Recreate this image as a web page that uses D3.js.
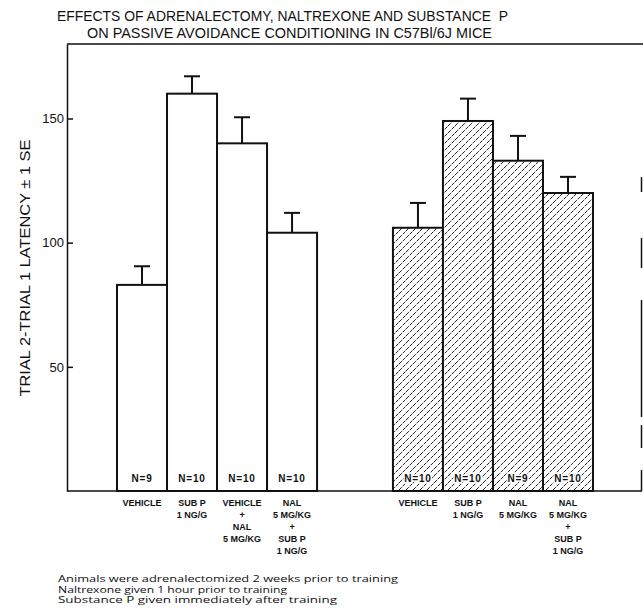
<!DOCTYPE html>
<html>
<head>
<meta charset="utf-8">
<script src="https://cdn.jsdelivr.net/npm/d3@7"></script>
<style>
  body { margin: 0; background: #fff; }
  text { fill: #111; }
</style>
</head>
<body>
<div id="chart"></div>
<script>
// chart values
const titleLines = [
  "EFFECTS OF ADRENALECTOMY, NALTREXONE AND SUBSTANCE  P",
  "ON PASSIVE AVOIDANCE CONDITIONING IN C57Bl/6J MICE"
];
const yTitle = "TRIAL 2-TRIAL 1 LATENCY ± 1 SE";
const yTicks = [50, 100, 150];
const groups = ["group1", "group2"];

const leftLabels = [
  ["VEHICLE"],
  ["SUB P", "1 NG/G"],
  ["VEHICLE", "+", "NAL", "5 MG/KG"],
  ["NAL", "5 MG/KG", "+", "SUB P", "1 NG/G"]
];
const leftMeans = [83, 160, 140, 104];
const leftSE = [7.5, 7, 10.5, 8];
const leftN = [9, 10, 10, 10];

const rightLabels = [
  ["VEHICLE"],
  ["SUB P", "1 NG/G"],
  ["NAL", "5 MG/KG"],
  ["NAL", "5 MG/KG", "+", "SUB P", "1 NG/G"]
];
const rightMeans = [106, 149, 133, 120];
const rightSE = [10, 9, 10, 6.5];
const rightN = [10, 10, 9, 10];

const footnotes = [
  "Animals were adrenalectomized 2 weeks prior to training",
  "Naltrexone given 1 hour prior to training",
  "Substance P given immediately after training"
];

const width = 643;
const height = 613;

const bars = [];
[[leftLabels, leftMeans, leftSE, leftN], [rightLabels, rightMeans, rightSE, rightN]]
  .forEach(([labels, means, se, n], g) => {
    means.forEach((m, i) => {
      bars.push({ group: groups[g], idx: i, label: labels[i], mean: m, se: se[i], n: n[i] });
    });
  });

const svg = d3.select("#chart").append("svg")
  .attr("width", width)
  .attr("height", height);

const defs = svg.append("defs");
const hatch = defs.append("pattern")
  .attr("id", "hatch")
  .attr("patternUnits", "userSpaceOnUse")
  .attr("width", 7)
  .attr("height", 7);
hatch.append("rect").attr("width", 7).attr("height", 7).attr("fill", "#fff");
hatch.append("path")
  .attr("d", "M-1,1 l2,-2 M0,7 l7,-7 M6,8 l2,-2")
  .attr("stroke", "#222")
  .attr("stroke-width", 1)
  .attr("stroke-dasharray", "4,1.2");

const y = d3.scaleLinear().domain([0, 180]).range([491, 44]);
const xGroup = d3.scaleBand().domain(groups).range([117, 593]).paddingInner(0.275);
const xBar = d3.scaleBand().domain(d3.range(4)).range([0, xGroup.bandwidth()]);

const barX = (d) => xGroup(d.group) + xBar(d.idx);
const barMid = (d) => barX(d) + xBar.bandwidth() / 2;

// title
svg.append("g")
  .selectAll("text")
  .data(titleLines)
  .enter()
  .append("text")
  .attr("x", (d, i) => (i === 0 ? 57 : 87))
  .attr("y", (d, i) => (i === 0 ? 21 : 38))
  .attr("textLength", (d, i) => (i === 0 ? 451 : 405))
  .attr("lengthAdjust", "spacingAndGlyphs")
  .style("font-family", "Liberation Sans, Arial, sans-serif")
  .style("font-size", "15px")
  .style("white-space", "pre")
  .text((d) => d);

// frame
svg.append("line")
  .attr("x1", 67).attr("x2", width)
  .attr("y1", y(180)).attr("y2", y(180))
  .attr("stroke", "#111").attr("stroke-width", 1.5);
svg.append("line")
  .attr("x1", 67).attr("x2", 642)
  .attr("y1", y(0)).attr("y2", y(0))
  .attr("stroke", "#111").attr("stroke-width", 1.5);
svg.append("line")
  .attr("x1", 641.5).attr("x2", 641.5)
  .attr("y1", 177).attr("y2", y(0))
  .attr("stroke", "#111").attr("stroke-width", 1.5)
  .attr("stroke-dasharray", "15,46,30,32,117,8,23,22,21");

// y axis
const yAxis = d3.axisLeft(y).tickValues(yTicks).tickSize(-6).tickSizeOuter(0).tickPadding(3);
const yg = svg.append("g")
  .attr("class", "y-axis")
  .attr("transform", "translate(67,0)")
  .call(yAxis);
yg.select(".domain").attr("stroke", "#111").attr("stroke-width", 1.5);
yg.selectAll(".tick line").attr("stroke", "#111").attr("stroke-width", 1.5);
yg.selectAll(".tick text")
  .style("font-family", "Liberation Sans, Arial, sans-serif")
  .style("font-size", "13px")
  .attr("fill", "#111");

svg.append("text")
  .attr("transform", "translate(30,268) rotate(-90)")
  .attr("text-anchor", "middle")
  .attr("textLength", 257)
  .attr("lengthAdjust", "spacingAndGlyphs")
  .style("font-family", "Liberation Sans, Arial, sans-serif")
  .style("font-size", "15px")
  .text(yTitle);

// bars
svg.append("g")
  .selectAll("rect")
  .data(bars)
  .enter()
  .append("rect")
  .attr("x", barX)
  .attr("y", (d) => y(d.mean))
  .attr("width", xBar.bandwidth())
  .attr("height", (d) => y(0) - y(d.mean))
  .attr("fill", (d) => (d.group === groups[1] ? "url(#hatch)" : "#fff"))
  .attr("stroke", "#111")
  .attr("stroke-width", 2);

// error bars
const err = svg.append("g").selectAll("g").data(bars).enter().append("g");
err.append("line")
  .attr("x1", barMid).attr("x2", barMid)
  .attr("y1", (d) => y(d.mean)).attr("y2", (d) => y(d.mean + d.se))
  .attr("stroke", "#111").attr("stroke-width", 2);
err.append("line")
  .attr("x1", (d) => barMid(d) - 8).attr("x2", (d) => barMid(d) + 8)
  .attr("y1", (d) => y(d.mean + d.se)).attr("y2", (d) => y(d.mean + d.se))
  .attr("stroke", "#111").attr("stroke-width", 2);

// N labels inside bars
svg.append("g")
  .selectAll("text")
  .data(bars)
  .enter()
  .append("text")
  .attr("x", barMid)
  .attr("y", y(0) - 9)
  .attr("text-anchor", "middle")
  .style("font-family", "Liberation Sans, Arial, sans-serif")
  .style("font-size", "10px")
  .style("font-weight", "bold")
  .style("letter-spacing", "0.8px")
  .style("paint-order", "stroke")
  .style("stroke", "#fff")
  .style("stroke-width", "3px")
  .text((d) => `N=${d.n}`);

// category labels
const cat = svg.append("g")
  .selectAll("text")
  .data(bars)
  .enter()
  .append("text")
  .attr("text-anchor", "middle")
  .style("font-family", "Liberation Sans, Arial, sans-serif")
  .style("font-size", "9px")
  .style("font-weight", "bold");
cat.selectAll("tspan")
  .data((d) => d.label.map((t) => ({ t, x: barMid(d) })))
  .enter()
  .append("tspan")
  .attr("x", (d) => d.x)
  .attr("y", (d, i) => y(0) + 15 + i * 12)
  .text((d) => d.t);

// footnotes
svg.append("g")
  .selectAll("text")
  .data(footnotes)
  .enter()
  .append("text")
  .attr("x", 58)
  .attr("y", (d, i) => 582 + i * 10.5)
  .attr("textLength", (d, i) => [340, 229, 279][i])
  .attr("lengthAdjust", "spacingAndGlyphs")
  .style("font-family", "Open Sans, Liberation Sans, sans-serif")
  .style("font-size", "8.5px")
  .text((d) => d);
</script>
</body>
</html>
